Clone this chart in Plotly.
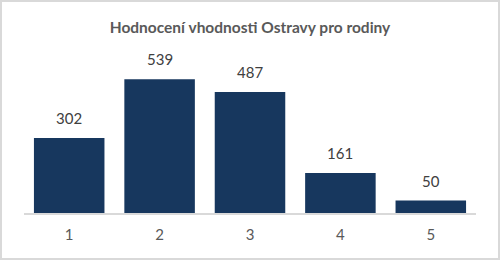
import plotly.graph_objects as go

categories = ["1", "2", "3", "4", "5"]
values = [302, 539, 487, 161, 50]
title_text = "Hodnocení vhodnosti Ostravy pro rodiny"

W, H = 500, 260
ml, mr, mt, mb = 24, 24, 64, 47
pw, ph = W - ml - mr, H - mt - mb
FONT = "Lato, Carlito, sans-serif"

def px_x(x):
    return (x - ml) / pw

def px_y(y):
    return (H - mb - y) / ph

fig = go.Figure(go.Bar(
    x=categories, y=values,
    marker=dict(color="#17375E", line=dict(width=0)),
))

for i, v in enumerate(values):
    fig.add_annotation(x=i, y=v, text=str(v), showarrow=False,
                       yanchor="bottom", yshift=9,
                       font=dict(family=FONT, size=15, color="#404040"))

fig.update_layout(
    width=W, height=H,
    margin=dict(l=ml, r=mr, t=mt, b=mb),
    paper_bgcolor="white", plot_bgcolor="white",
    bargap=0.22,
    showlegend=False,
    title=dict(text="<b>" + title_text + "</b>", x=0.5, xanchor="center",
               y=1 - 28 / H, yanchor="middle",
               font=dict(family=FONT, size=15.5, color="#595959")),
    xaxis=dict(type="category", showgrid=False, showline=True, linecolor="#D9D9D9", linewidth=1.5,
               ticks="", tickfont=dict(family=FONT, size=15, color="#595959"),
               ticklabelstandoff=7),
    yaxis=dict(range=[0, 600], visible=False, showgrid=False, zeroline=False),
    shapes=[dict(type="rect", xref="paper", yref="paper",
                 x0=px_x(1), x1=px_x(W - 1), y0=px_y(H - 1), y1=px_y(1),
                 line=dict(color="#D9D9D9", width=2), fillcolor="rgba(0,0,0,0)", layer="below")],
)

fig.write_html("out.html")
